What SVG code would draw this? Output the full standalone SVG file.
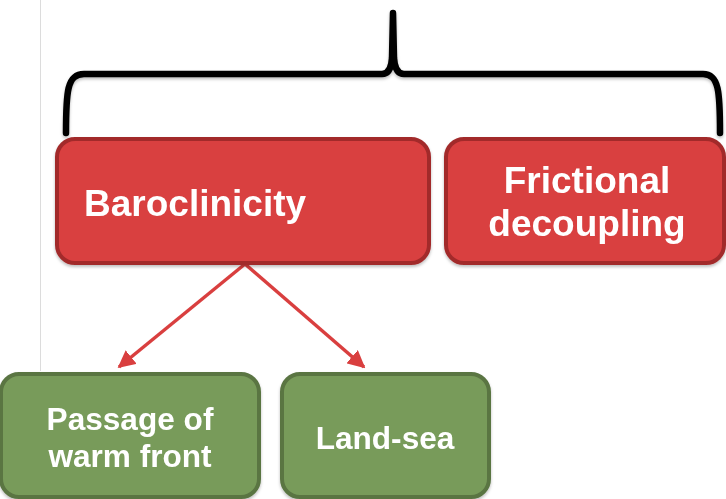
<svg xmlns="http://www.w3.org/2000/svg" width="726" height="499" viewBox="0 0 726 499">
<style>
.red{fill:#d93f3f;stroke:#a22b2c;stroke-width:4}
.green{fill:#789b5a;stroke:#5a7443;stroke-width:4}
.t{font-family:"Liberation Sans",Arial,sans-serif;font-weight:bold;fill:#fff}
.conn{stroke:#d93f3f;stroke-width:3.5;fill:none}
</style>
<defs>
<marker id="ah" viewBox="0 0 10 10" refX="9" refY="5" markerWidth="5" markerHeight="5" orient="auto" markerUnits="strokeWidth">
<path d="M0,0 L10,5 L0,10 z" fill="#d93f3f"/>
</marker>
<filter id="sh" x="-5%" y="-5%" width="110%" height="115%">
<feDropShadow dx="0" dy="2" stdDeviation="1.5" flood-color="#000" flood-opacity="0.25"/>
</filter>
</defs>
<line x1="40.5" y1="0" x2="40.5" y2="371" stroke="#dcdcdc" stroke-width="1"/>
<g id="brace" filter="url(#sh)">
<path d="M66,133 C66,92 67,74 84,74 L382,74 Q391,74 392,58 L393,13 L394,58 Q395,74 404,74 L703,74 C719,74 720,92 720,133" fill="none" stroke="#000" stroke-width="6.5" stroke-linecap="round" stroke-linejoin="round"/>
</g>
<g id="connectors">
<line class="conn" x1="245" y1="264" x2="119" y2="367" marker-end="url(#ah)"/>
<line class="conn" x1="245" y1="264" x2="364" y2="367" marker-end="url(#ah)"/>
</g>
<g id="baroclinicity" filter="url(#sh)">
<rect class="red" x="57" y="139" width="372" height="124" rx="18"/>
<text class="t" x="84" y="216" font-size="37">Baroclinicity</text>
</g>
<g id="frictional" filter="url(#sh)">
<rect class="red" x="446" y="139" width="278" height="124" rx="18"/>
<text class="t" x="587" y="193" font-size="37" text-anchor="middle">Frictional</text>
<text class="t" x="587" y="236" font-size="37" text-anchor="middle">decoupling</text>
</g>
<g id="passage" filter="url(#sh)">
<rect class="green" x="1" y="374" width="258" height="123" rx="18"/>
<text class="t" x="130" y="430" font-size="31.6" text-anchor="middle">Passage of</text>
<text class="t" x="130" y="467" font-size="31.6" text-anchor="middle">warm front</text>
</g>
<g id="landsea" filter="url(#sh)">
<rect class="green" x="282" y="374" width="207" height="123" rx="18"/>
<text class="t" x="385" y="449" font-size="31.6" text-anchor="middle">Land-sea</text>
</g>
</svg>
